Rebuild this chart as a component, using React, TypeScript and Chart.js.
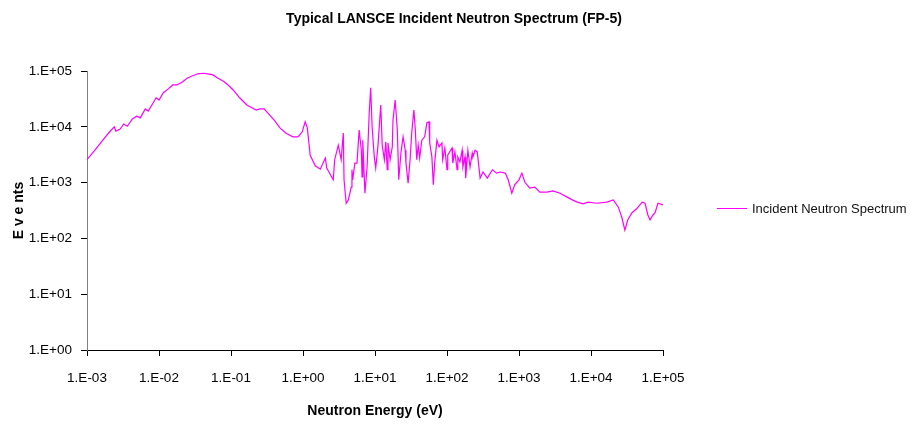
import { useEffect, useRef } from "react";
import { Chart, registerables } from "chart.js";

Chart.register(...registerables);

const chartTitle = "Typical LANSCE Incident Neutron Spectrum (FP-5)";
const xAxisTitle = "Neutron Energy (eV)";
const yAxisTitle = "E v e nts";
const seriesName = "Incident Neutron Spectrum";

// log10 of neutron energy (eV)
const logEnergy = [
  -3.0, -2.89, -2.78, -2.68, -2.62, -2.6, -2.54, -2.49, -2.44, -2.37,
  -2.31, -2.26, -2.19, -2.15, -2.08, -2.04, -2.0, -1.94, -1.87, -1.81,
  -1.75, -1.68, -1.61, -1.54, -1.46, -1.39, -1.32, -1.25, -1.18, -1.11,
  -1.04, -0.97, -0.88, -0.78, -0.71, -0.65, -0.6, -0.54, -0.49, -0.4,
  -0.32, -0.24, -0.14, -0.07, -0.01, 0.03, 0.06, 0.1, 0.17,
  0.24, 0.31, 0.33, 0.42, 0.44, 0.49, 0.53, 0.56, 0.57, 0.6,
  0.63, 0.67, 0.68, 0.69, 0.72, 0.75, 0.78, 0.81, 0.82, 0.83,
  0.86, 0.89, 0.92, 0.94, 0.96, 0.99, 1.01, 1.04, 1.08, 1.1,
  1.13, 1.15, 1.17, 1.18, 1.21, 1.24, 1.25, 1.28, 1.31, 1.33,
  1.36, 1.39, 1.42, 1.43, 1.46, 1.49, 1.51, 1.54, 1.56, 1.58,
  1.6, 1.62, 1.65, 1.69, 1.72, 1.75, 1.76, 1.79, 1.81, 1.83,
  1.86, 1.89, 1.93, 1.94, 1.97, 2.0, 2.01, 2.07, 2.08, 2.11,
  2.14, 2.15, 2.18, 2.21, 2.22, 2.25, 2.26, 2.29, 2.32, 2.35,
  2.36, 2.39, 2.42, 2.46, 2.5, 2.56, 2.63, 2.69,
  2.74, 2.81, 2.85, 2.9, 2.94, 3.0, 3.04, 3.08, 3.15, 3.22,
  3.29, 3.39, 3.47, 3.57, 3.67, 3.74, 3.81, 3.89, 3.96, 4.08,
  4.22, 4.31, 4.38, 4.43, 4.47, 4.51, 4.57, 4.64, 4.71, 4.75,
  4.79, 4.82, 4.86, 4.89, 4.93, 5.0,
];

// log10 of events
const logEvents = [
  3.41, 3.58, 3.76, 3.92, 4.0, 3.92, 3.96, 4.05, 4.01, 4.14,
  4.19, 4.16, 4.32, 4.28, 4.43, 4.52, 4.48, 4.61, 4.68, 4.75,
  4.75, 4.8, 4.87, 4.91, 4.95, 4.96, 4.95, 4.93, 4.87, 4.82,
  4.75, 4.66, 4.52, 4.39, 4.34, 4.3, 4.32, 4.32, 4.25, 4.12,
  3.98, 3.89, 3.82, 3.82, 3.91, 4.09, 3.98, 3.49, 3.3,
  3.24, 3.44, 3.26, 3.05, 3.41, 3.67, 3.41, 3.89, 3.05, 2.63,
  2.69, 2.92, 3.23, 3.05, 3.35, 3.35, 3.94, 3.58, 3.1, 3.76,
  2.81, 3.28, 4.25, 4.7, 4.0, 3.46, 3.26, 3.64, 4.39, 3.67,
  3.41, 3.73, 3.23, 3.71, 3.41, 3.64, 4.12, 4.48, 3.94, 3.05,
  3.53, 3.82, 3.58, 3.35, 2.99, 3.46, 3.89, 4.3, 3.94, 3.41,
  3.67, 3.44, 3.76, 3.82, 4.07, 4.09, 3.71, 3.46, 2.96, 3.37,
  3.76, 3.64, 3.71, 3.41, 3.62, 3.23, 3.49, 3.62, 3.35, 3.55,
  3.23, 3.46, 3.37, 3.58, 3.28, 3.46, 3.08, 3.58, 3.28, 3.53,
  3.46, 3.58, 3.55, 3.08, 3.19, 3.08, 3.23, 3.17,
  3.19, 3.17, 3.05, 2.81, 2.96, 3.05, 3.17, 3.01, 2.9, 2.92,
  2.83, 2.83, 2.85, 2.81, 2.74, 2.69, 2.65, 2.62, 2.65, 2.63,
  2.65, 2.69, 2.56, 2.37, 2.15, 2.33, 2.46, 2.54, 2.65, 2.63,
  2.42, 2.33, 2.42, 2.46, 2.63, 2.6,
];

const xTickValues = [1e-3, 1e-2, 1e-1, 1e0, 1e1, 1e2, 1e3, 1e4, 1e5];
const yTickValues = [1e0, 1e1, 1e2, 1e3, 1e4, 1e5];

const FONT = "'Liberation Sans', Arial, Helvetica, sans-serif";

function sciLabel(v: number): string {
  const e = Math.round(Math.log10(v));
  const sign = e < 0 ? "-" : "+";
  return `1.E${sign}${String(Math.abs(e)).padStart(2, "0")}`;
}

const textPlugin = {
  id: "textPlugin",
  afterDraw(chart: any) {
    const ctx = chart.ctx as CanvasRenderingContext2D;
    const area = chart.chartArea;
    ctx.save();
    ctx.fillStyle = "#000";
    ctx.textAlign = "center";
    ctx.textBaseline = "alphabetic";
    ctx.font = `bold 14px ${FONT}`;
    ctx.fillText(chartTitle, 454, 23);
    ctx.fillText(xAxisTitle, (area.left + area.right) / 2, 415);
    ctx.save();
    ctx.translate(23, (area.top + area.bottom) / 2);
    ctx.rotate(-Math.PI / 2);
    ctx.fillText(yAxisTitle, 0, 0);
    ctx.restore();
    // legend
    ctx.strokeStyle = "#FF00FF";
    ctx.lineWidth = 1;
    ctx.beginPath();
    ctx.moveTo(717, 208.5);
    ctx.lineTo(747, 208.5);
    ctx.stroke();
    ctx.textAlign = "left";
    ctx.textBaseline = "middle";
    ctx.font = `13px ${FONT}`;
    ctx.fillStyle = "#111";
    ctx.fillText(seriesName, 752, 209);
    ctx.restore();
  },
};

export default function App() {
  const ref = useRef<HTMLCanvasElement | null>(null);

  useEffect(() => {
    document.body.style.margin = "0";
    const canvas = ref.current;
    if (!canvas) return;
    const points = logEnergy.map((lx, i) => ({ x: Math.pow(10, lx), y: Math.pow(10, logEvents[i]) }));
    const tickFont = { family: FONT, size: 13.5 };
    const chart = new Chart(canvas, {
      type: "line",
      data: {
        datasets: [
          {
            label: seriesName,
            data: points,
            borderColor: "#FF00FF",
            backgroundColor: "#FF00FF",
            borderWidth: 1.2,
            pointRadius: 0,
            tension: 0,
            fill: false,
          },
        ],
      },
      options: {
        animation: false,
        responsive: false,
        maintainAspectRatio: false,
        layout: { padding: { top: 71, right: 246, bottom: 0, left: 0 } },
        plugins: {
          legend: { display: false },
          title: { display: false },
          tooltip: { enabled: false },
        },
        scales: {
          x: {
            type: "logarithmic",
            min: 1e-3,
            max: 1e5,
            afterBuildTicks: (s: any) => {
              s.ticks = xTickValues.map((v) => ({ value: v }));
            },
            afterFit: (s: any) => {
              s.height = 74;
            },
            ticks: {
              callback: (v: any) => sciLabel(Number(v)),
              autoSkip: false,
              maxRotation: 0,
              minRotation: 0,
              color: "#000",
              font: tickFont,
              padding: 14,
            },
            grid: { display: true, drawOnChartArea: false, drawTicks: true, tickLength: 6, color: "#000" },
            border: { display: true, color: "#000", width: 1 },
          },
          y: {
            type: "logarithmic",
            min: 1,
            max: 1e5,
            afterBuildTicks: (s: any) => {
              s.ticks = yTickValues.map((v) => ({ value: v }));
            },
            afterFit: (s: any) => {
              s.width = 87;
            },
            ticks: {
              callback: (v: any) => sciLabel(Number(v)),
              autoSkip: false,
              color: "#000",
              font: tickFont,
              padding: 9,
            },
            grid: { display: true, drawOnChartArea: false, drawTicks: true, tickLength: 6, color: "#000" },
            border: { display: true, color: "#808080", width: 1 },
          },
        },
      },
      plugins: [textPlugin],
    } as any);
    return () => chart.destroy();
  }, []);

  return (
    <div style={{ position: "absolute", left: 0, top: 0, width: 909, height: 424, background: "#fff" }}>
      <canvas ref={ref} width={909} height={424} style={{ display: "block", width: 909, height: 424 }} />
    </div>
  );
}
